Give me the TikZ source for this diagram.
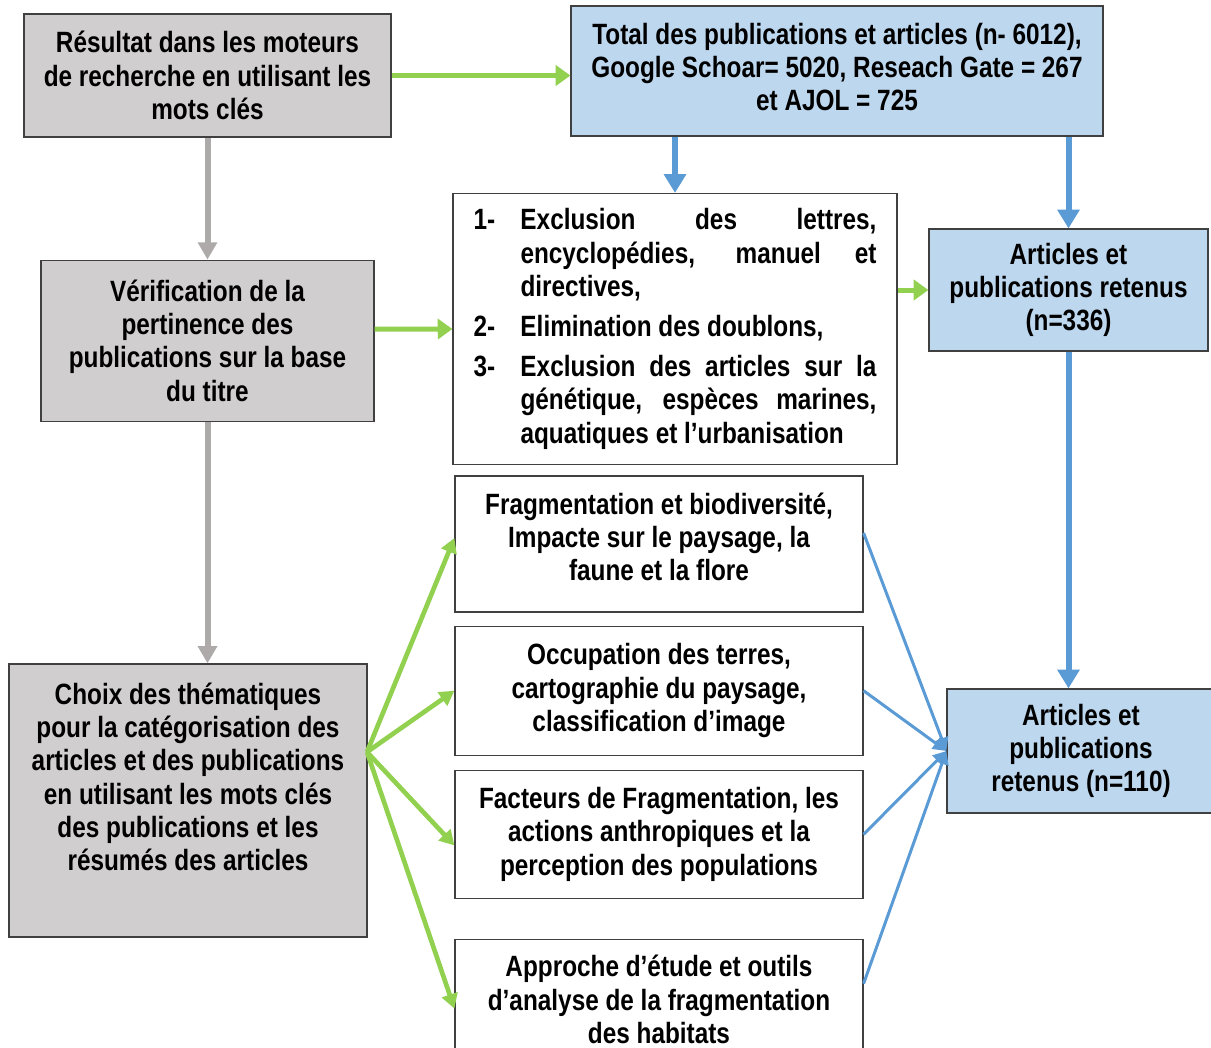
\documentclass[tikz,border=0pt]{standalone}
\usepackage{fontspec}
\setmainfont{Liberation Sans}[FakeStretch=0.83]
\usetikzlibrary{arrows.meta,positioning}
\definecolor{greyfill}{HTML}{D0CECE}
\definecolor{bluefill}{HTML}{BDD7EE}
\definecolor{boxline}{HTML}{404040}
\definecolor{arrowgreen}{HTML}{92D050}
\definecolor{arrowgrey}{HTML}{AEAAAA}
\definecolor{arrowblue}{HTML}{5B9BD5}

\begin{document}
\begin{tikzpicture}[
    x=0.75pt, y=-0.75pt,
    node distance=10pt,
    box/.style={rectangle, draw=boxline, line width=0.9pt, inner sep=0pt, align=center,
        font=\fontsize{22}{25}\selectfont\bfseries},
    greybox/.style={box, fill=greyfill},
    bluebox/.style={box, fill=bluefill},
    whitebox/.style={box, fill=white},
    boxtext/.style={inner sep=0pt, align=center, font=\fontsize{22}{25}\selectfont\bfseries},
    garrow/.style={-{Triangle[length=11pt, width=15pt]}, line width=3.75pt, draw=arrowgreen},
    fanarrow/.style={-{Triangle[length=11pt, width=12pt]}, line width=3.5pt, draw=arrowgreen},
    grarrow/.style={-{Triangle[length=13pt, width=14pt]}, line width=4.5pt, draw=arrowgrey},
    barrow/.style={-{Triangle[length=14pt, width=16pt]}, line width=4.5pt, draw=arrowblue},
    bthin/.style={-{Triangle[length=10pt, width=10pt]}, line width=2.25pt, draw=arrowblue}
]
    \useasboundingbox (0,0) rectangle (1211,1047);

    \node[greybox, minimum width=275.25pt, minimum height=92.25pt] (search) at (207.5,75.5)
        {Résultat dans les moteurs\\de recherche en utilisant les\\mots clés};
    \node[bluebox, minimum width=399pt, minimum height=97.5pt] (total) at (837,71) {};
    \node[boxtext] (totaltext) at (837,67)
        {Total des publications et articles (n- 6012),\\Google Schoar= 5020, Reseach Gate = 267\\et AJOL = 725};
    \node[greybox, below=91.5pt of search, minimum width=249.75pt, minimum height=120.75pt] (verif)
        {Vérification de la\\pertinence des\\publications sur la base\\du titre};
    \node[whitebox, minimum width=333pt, minimum height=203.25pt, text width=302.25pt, align=justify] (excl) at (675,329)
        {\sloppy\hyphenpenalty=10000
        \hangindent=35.25pt\hangafter=1\noindent\makebox[35.25pt][l]{1-}Exclusion des lettres,\linebreak encyclopédies, manuel et\linebreak directives,\par
        \vspace{5pt}
        \hangindent=35.25pt\hangafter=1\noindent\makebox[35.25pt][l]{2-}Elimination des doublons,\par
        \vspace{5pt}
        \hangindent=35.25pt\hangafter=1\noindent\makebox[35.25pt][l]{3-}Exclusion des articles sur la\linebreak génétique, espèces marines,\linebreak aquatiques et l’urbanisation\par};
    \node[bluebox, minimum width=209.25pt, minimum height=91.5pt] (kept336) at (1068.5,290)
        {Articles et\\publications retenus\\(n=336)};
    \node[greybox, minimum width=268.5pt, minimum height=204.75pt] (choix) at (188,800.5) {};
    \node[boxtext] (choixtext) at (188,777)
        {Choix des thématiques\\pour la catégorisation des\\articles et des publications\\en utilisant les mots clés\\des publications et les\\résumés des articles};
    \node[whitebox, minimum width=306pt, minimum height=102pt] (frag) at (659,544) {};
    \node[boxtext] (fragtext) at (659,537)
        {Fragmentation et biodiversité,\\Impacte sur le paysage, la\\faune et la flore};
    \node[whitebox, below=9.75pt of frag, minimum width=306pt, minimum height=96.75pt] (occup)
        {Occupation des terres,\\cartographie du paysage,\\classification d’image};
    \node[whitebox, below=10.5pt of occup, minimum width=306pt, minimum height=96pt] (facteurs)
        {Facteurs de Fragmentation, les\\actions anthropiques et la\\perception des populations};
    \node[whitebox, below=30pt of facteurs, minimum width=306pt, minimum height=90pt] (approche)
        {Approche d’étude et outils\\d’analyse de la fragmentation\\des habitats};
    \node[bluebox, minimum width=201pt, minimum height=93pt] (kept110) at (1081,751)
        {Articles et\\publications\\retenus (n=110)};
    \coordinate (fan) at (367,752);

    \draw[garrow] (search.east) -- (search.east -| total.west);
    \draw[grarrow] (search) -- (verif);
    \draw[grarrow] (verif) -- (verif.south |- choix.north);
    \draw[garrow] ([yshift=8.6pt]verif.east) -- (excl.west);
    \draw[barrow] (total.south -| excl.north) -- (excl.north);
    \draw[barrow] (total.south -| kept336.north) -- (kept336.north);
    \draw[garrow] (excl.east |- kept336.west) -- (kept336.west);
    \draw[barrow] (kept336.south) -- (kept336.south |- kept110.north);
    \draw[fanarrow] (fan) -- ([yshift=4.5pt]frag.west);
    \draw[fanarrow] (fan) -- (occup.west);
    \draw[fanarrow] (fan) -- ([yshift=-8.25pt]facteurs.west);
    \draw[fanarrow] (fan) -- ([yshift=-6.75pt]approche.west);
    \draw[bthin] ([yshift=8.25pt]frag.east) -- (kept110.west);
    \draw[bthin] (occup.east) -- (kept110.west);
    \draw[bthin] (facteurs.east) -- (kept110.west);
    \draw[bthin] ([yshift=12pt]approche.east) -- (kept110.west);
\end{tikzpicture}
\end{document}
